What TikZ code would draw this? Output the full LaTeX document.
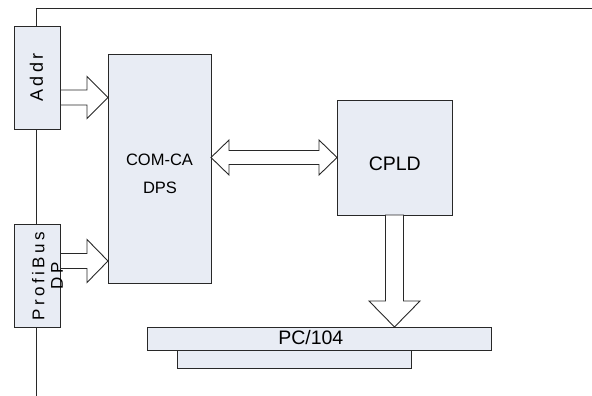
\documentclass[tikz,border=0pt]{standalone}
\usepackage{fontspec}
\setmainfont{Liberation Sans}
\usetikzlibrary{calc}
\definecolor{boxfill}{RGB}{232,236,244}
\definecolor{linec}{RGB}{40,40,40}
\tikzset{
  blk/.style={draw=linec, fill=boxfill, line width=0.9pt, inner sep=0pt, outer sep=0pt},
  barrow/.style={draw=linec, fill=white, line width=0.9pt, line join=miter},
  wire/.style={draw=linec, line width=0.9pt},
  lbl/.style={inner sep=0pt},
}
\newcommand\blockarr[5]{%
  \coordinate (ba-h) at ($(#2)!#5!(#1)$);
  \draw[barrow] ($(#1)!#3!90:(#2)$) -- ($(ba-h)!#3!90:(#2)$) -- ($(ba-h)!#4!90:(#2)$) -- (#2)
    -- ($(ba-h)!#4!-90:(#2)$) -- ($(ba-h)!#3!-90:(#2)$) -- ($(#1)!#3!-90:(#2)$) -- cycle;}
\begin{document}
\begin{tikzpicture}[x=1pt,y=-1pt]
\useasboundingbox (0,0) rectangle (592,396);
% boxes
\node[blk, minimum width=46pt, minimum height=103pt] (addr) at (37.5,77.5) {};
\node[blk, minimum width=46pt, minimum height=103pt] (pb) at (37.5,275.5) {};
\node[blk, minimum width=103pt, minimum height=229pt] (com) at (159.5,168.5) {};
\node[blk, minimum width=115pt, minimum height=115pt] (cpld) at (394.5,157.5) {};
\node[blk, minimum width=234pt, minimum height=18pt] (low) at (294,359) {};
\node[blk, minimum width=344pt, minimum height=23pt] (pc) at (319,338.5) {};
% texts
\node[lbl, rotate=90, font=\fontsize{18}{20}\selectfont\addfontfeature{LetterSpace=18}] (addrt) at (36.5,77.5) {Addr};
\node[lbl, rotate=90, align=center, font=\fontsize{17}{18.5}\selectfont\addfontfeature{LetterSpace=20}] (pbt) at (47.5,276) {ProfiBus\\DP};
\node[lbl, font=\fontsize{16.5}{18}\selectfont] (comt1) at (159.5,159.7) {COM-CA};
\node[lbl, font=\fontsize{16.5}{18}\selectfont] (comt2) at (160,188.3) {DPS};
\node[lbl, font=\fontsize{19.5}{21}\selectfont] (cpldt) at (394.8,164.2) {CPLD};
\node[lbl, font=\fontsize{19.5}{21}\selectfont] (pct) at (310.8,338) {PC/104};
% wires
\coordinate (top) at (36,8);
\coordinate (topr) at (592,8);
\coordinate (bot) at (36,396);
\draw[wire] (topr) -- (top) -- (top |- addr.north);
\draw[wire] (top |- addr.south) -- (top |- pb.north);
\draw[wire] (top |- pb.south) -- (bot);
% arrows
\coordinate (a1s) at ($(addr.east)+(0,20)$);
\coordinate (a1t) at (com.west |- a1s);
\blockarr{a1s}{a1t}{7.5pt}{21pt}{21pt}
\coordinate (a2s) at ($(pb.east)+(0,-14.5)$);
\coordinate (a2t) at (com.west |- a2s);
\blockarr{a2s}{a2t}{7.5pt}{21.5pt}{21pt}
\coordinate (a4s) at (cpld.south);
\coordinate (a4t) at (cpld.south |- pc.north);
\blockarr{a4s}{a4t}{9pt}{25.5pt}{26pt}
% double arrow
\coordinate (d1) at (com.east |- cpld.west);
\coordinate (d2) at (cpld.west);
\coordinate (dh1) at ($(d1)!18pt!(d2)$);
\coordinate (dh2) at ($(d2)!18pt!(d1)$);
\draw[barrow] (d1) -- ($(dh1)!17.5pt!90:(d2)$) -- ($(dh1)!7pt!90:(d2)$) -- ($(dh2)!7pt!-90:(d1)$)
  -- ($(dh2)!17.5pt!-90:(d1)$) -- (d2) -- ($(dh2)!17.5pt!90:(d1)$) -- ($(dh2)!7pt!90:(d1)$)
  -- ($(dh1)!7pt!-90:(d2)$) -- ($(dh1)!17.5pt!-90:(d2)$) -- cycle;
\end{tikzpicture}
\end{document}
